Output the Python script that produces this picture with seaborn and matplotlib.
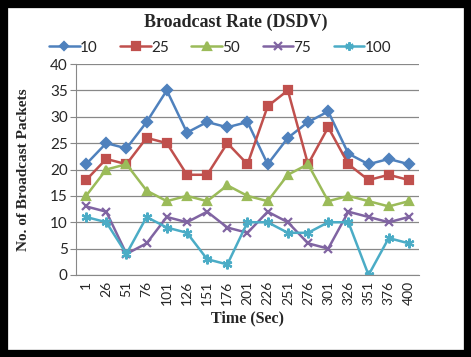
import numpy as np
import pandas as pd
import seaborn as sns
import matplotlib.pyplot as plt
from matplotlib.patches import Rectangle

# time labels (categories on the x axis)
times = ["1", "26", "51", "76", "101", "126", "151", "176", "201",
         "226", "251", "276", "301", "326", "351", "376", "400"]

rate_10 = [21, 25, 24, 29, 35, 27, 29, 28, 29, 21, 26, 29, 31, 23, 21, 22, 21]
rate_25 = [18, 22, 21, 26, 25, 19, 19, 25, 21, 32, 35, 21, 28, 21, 18, 19, 18]
rate_50 = [15, 20, 21, 16, 14, 15, 14, 17, 15, 14, 19, 21, 14, 15, 14, 13, 14]
rate_75 = [13, 12, 4, 6, 11, 10, 12, 9, 8, 12, 10, 6, 5, 12, 11, 10, 11]
rate_100 = [11, 10, 4, 11, 9, 8, 3, 2, 10, 10, 8, 8, 10, 10, 0, 7, 6]

series_names = ["10", "25", "50", "75", "100"]
series_vals = [rate_10, rate_25, rate_50, rate_75, rate_100]

sns.set_style("white")
plt.rcParams['font.family'] = ['Lato', 'DejaVu Sans']

colors = ["#4F81BD", "#C0504D", "#9BBB59", "#8064A2", "#4BACC6"]
markers = ["D", "s", "^", "x", (6, 2, 0)]
msizes = [5, 6, 6, 6, 7]

fig = plt.figure(figsize=(4.71, 3.57), dpi=100)
ax = fig.add_axes([76 / 471, 1 - 275 / 357, (419 - 76) / 471, (275 - 64) / 357])

for name, vals, c, m, ms in zip(series_names, series_vals, colors, markers, msizes):
    d = pd.DataFrame({"pos": range(len(vals)), "value": vals})
    sns.lineplot(data=d, x="pos", y="value", color=c, marker=m, markersize=ms,
                 markeredgecolor=c, markeredgewidth=1.6, linewidth=1.8,
                 label=name, ax=ax)

ax.set_xlim(-0.5, len(times) - 0.5)
ax.set_ylim(0, 40)
ax.set_yticks(np.arange(0, 41, 5))
ax.set_xticks(range(len(times)))
ax.set_xticklabels(times, rotation=90, fontsize=10)
ax.set_xticks(np.arange(-0.5, len(times), 1), minor=True)
ax.tick_params(axis="x", which="major", length=0, pad=4)
ax.tick_params(axis="x", which="minor", length=4, color="#888888", direction="out")
ax.tick_params(axis="y", labelsize=11, length=4, color="#888888", pad=2, left=True)
ax.yaxis.grid(True, color="#888888", linewidth=0.9)
for s in ["top", "right"]:
    ax.spines[s].set_visible(False)
for s in ["left", "bottom"]:
    ax.spines[s].set_color("#888888")

ax.set_xlabel("Time (Sec)", family="Liberation Serif", fontweight="bold",
              fontsize=11.5, labelpad=4)
ax.set_ylabel("No. of Broadcast Packets", family="Liberation Serif",
              fontweight="bold", fontsize=11, labelpad=14)

handles, labels = ax.get_legend_handles_labels()
ax.legend(handles, labels, loc="lower center", bbox_to_anchor=(0.42, 1.0),
          ncol=5, frameon=False, fontsize=11, handlelength=2.0, markerscale=0.85,
          columnspacing=1.5, handletextpad=0.0, borderaxespad=0.2)

fig.text(0.5, 1 - 22 / 357, "Broadcast Rate (DSDV)", ha="center", va="center",
         family="Liberation Serif", fontweight="bold", fontsize=13)

# thick black frame around the picture
fig.patches.append(Rectangle((0, 0), 1, 1, transform=fig.transFigure,
                             fill=False, edgecolor="black", linewidth=11))

fig.savefig("out.png", dpi=100)
